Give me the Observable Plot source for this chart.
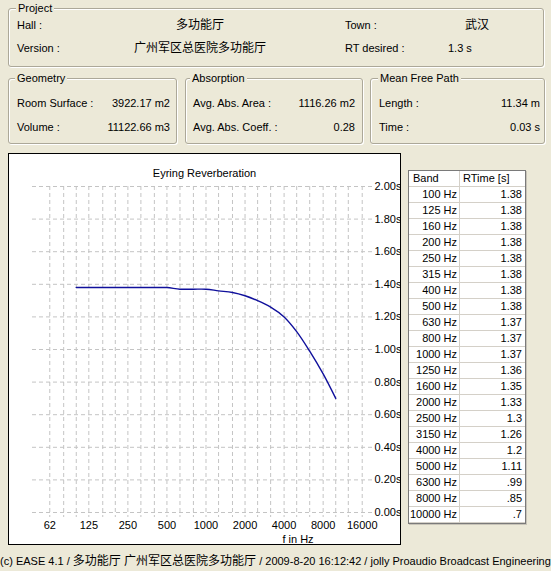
<!DOCTYPE html>
<html>
<head>
<meta charset="utf-8">
<script src="https://cdn.jsdelivr.net/npm/d3@7"></script>
<script src="https://cdn.jsdelivr.net/npm/@observablehq/plot@0.6"></script>
<style>
  html, body { margin:0; padding:0; }
  body { width:551px; height:571px; background:#ECE9D8; position:relative; overflow:hidden;
         font-family:"Liberation Sans","Noto Sans CJK SC",sans-serif; font-size:11px; color:#000; }
  .t { position:absolute; white-space:nowrap; line-height:14px; height:14px; }
  .cjk { font-size:12px; }
  .frame { position:absolute; border:1px solid #aca899; border-radius:3px;
           box-shadow: inset 1px 1px 0 #fff, 1px 1px 0 #fff; }
  .legend { position:absolute; background:#ECE9D8; padding:0 2px; line-height:14px; white-space:nowrap; }
  #panel { position:absolute; left:8px; top:153px; width:391px; height:390px; border:1px solid #000;
           background:#fff; overflow:hidden; }
  #panel svg { position:absolute; left:0; top:0; }
  #tbl { position:absolute; left:408px; top:170px; width:116px; border:1px solid #7a7a7a; background:#fff;
         box-shadow: 1px 1px 0 #c8c4b8; }
  .row { height:15px; border-bottom:1px solid #d4d0c8; display:flex; line-height:15px; }
  .c1 { border-right:1px solid #d4d0c8; text-align:right; padding-right:2px; box-sizing:border-box; width:51px; }
  .c2 { flex:1; text-align:right; padding-right:3px; }
  .hdr .c1, .hdr .c2 { text-align:left; padding-left:4px; }
  .hdr .c2 { padding-left:3px; }
  #footer { position:absolute; left:0; top:554px; white-space:nowrap; line-height:14px; font-size:11px; }
  #footer .z { font-size:12px; }
</style>
</head>
<body>
<script>
// ---------- data ----------
const bands = [100,125,160,200,250,315,400,500,630,800,1000,1250,1600,2000,2500,3150,4000,5000,6300,8000,10000];
const rtime = [1.38,1.38,1.38,1.38,1.38,1.38,1.38,1.38,1.37,1.37,1.37,1.36,1.35,1.33,1.3,1.26,1.2,1.11,0.99,0.85,0.7];
const xTicks = [62.5,125,250,500,1000,2000,4000,8000,16000];
const xTickLabels = ["62","125","250","500","1000","2000","4000","8000","16000"];
const gridFreqs = [62.5,80,100,125,160,200,250,315,400,500,630,800,1000,1250,1600,2000,2500,3150,4000,5000,6300,8000,10000,12500,16000];
const yTicks = [0,0.2,0.4,0.6,0.8,1.0,1.2,1.4,1.6,1.8,2.0];

const projectLabels = ["Hall :","Version :"];
const projectValues = ["多功能厅","广州军区总医院多功能厅"];
const projectLabels2 = ["Town :","RT desired :"];
const projectValues2 = ["武汉","1.3 s"];
const geometryLabels = ["Room Surface :","Volume :"];
const geometryValues = ["3922.17 m2","11122.66 m3"];
const absorptionLabels = ["Avg. Abs. Area :","Avg. Abs. Coeff. :"];
const absorptionValues = ["1116.26 m2","0.28"];
const mfpLabels = ["Length :","Time :"];
const mfpValues = ["11.34 m","0.03 s"];
const footerParts = [["(c) EASE 4.1  / ", false], ["多功能厅 广州军区总医院多功能厅", true],
                     [" / 2009-8-20 16:12:42 / jolly Proaudio Broadcast Engineering Ltd.", false]];

// ---------- helpers ----------
const body = document.body;
function el(cls, s, style) {
  const d = document.createElement("div");
  d.className = cls; d.textContent = s; Object.assign(d.style, style); body.appendChild(d); return d;
}
function txt(s, x, yc, align, extra) {
  const st = {top:(yc-7)+"px"};
  if (align === "center") { st.left = (x-200)+"px"; st.width = "400px"; st.textAlign = "center"; }
  else if (align === "right") { st.left = (x-300)+"px"; st.width = "300px"; st.textAlign = "right"; }
  else st.left = x+"px";
  return el("t" + (extra ? " "+extra : ""), s, st);
}
function frame(x0,y0,x1,y1,title,tx) {
  el("frame","",{left:x0+"px",top:y0+"px",width:(x1-x0-1)+"px",height:(y1-y0-1)+"px"});
  el("legend",title,{left:(tx-2)+"px",top:(y0-7)+"px"});
}

// ---------- info frames ----------
frame(8,8,543,66,"Project",18);
projectLabels.forEach((s,i)=>txt(s,17,[25,48][i],"left"));
projectValues.forEach((s,i)=>txt(s,200,[25,48][i],"center","cjk"));
projectLabels2.forEach((s,i)=>txt(s,345,[25,48][i],"left"));
txt(projectValues2[0],477,25,"center","cjk");
txt(projectValues2[1],448,48,"left");

frame(8,78,176,143,"Geometry",17);
geometryLabels.forEach((s,i)=>txt(s,17,[103,127][i],"left"));
geometryValues.forEach((s,i)=>txt(s,170,[103,127][i],"right"));
frame(185,78,362,143,"Absorption",192);
absorptionLabels.forEach((s,i)=>txt(s,193,[103,127][i],"left"));
absorptionValues.forEach((s,i)=>txt(s,355,[103,127][i],"right"));
frame(370,78,544,143,"Mean Free Path",380);
mfpLabels.forEach((s,i)=>txt(s,379,[103,127][i],"left"));
mfpValues.forEach((s,i)=>txt(s,540,[103,127][i],"right"));

// ---------- chart panel ----------
const panel = document.createElement("div");
panel.id = "panel"; body.appendChild(panel);

const chart = Plot.plot({
  width: 391, height: 390,
  marginTop: 32, marginBottom: 32, marginLeft: 23, marginRight: 27,
  x: {type: "log", base: 2, domain: [46, 19550]},
  y: {domain: [0, 2]},
  style: {fontFamily: "Liberation Sans, sans-serif", fontSize: "11px", color: "#000", background: "transparent"},
  marks: [
    Plot.ruleY(yTicks, {stroke: "#c4c4c4", strokeDasharray: "4,3", strokeWidth: 1}),
    Plot.ruleX(gridFreqs, {stroke: "#c4c4c4", strokeDasharray: "4,3", strokeWidth: 1, insetBottom: -5}),
    Plot.axisY(yTicks, {anchor: "right", tickSize: 0, tickPadding: 1, label: null,
                        tickFormat: d => d.toFixed(2) + "s", fill: "#000"}),
    Plot.axisX(xTicks, {anchor: "bottom", tickSize: 0, tickPadding: 9, label: null,
                        tickFormat: d => xTickLabels[xTicks.indexOf(d)], fill: "#000"}),
    Plot.line(bands.map((f, i) => ({f, rt: rtime[i]})),
              {x: "f", y: "rt", stroke: "#10109c", strokeWidth: 1.4, curve: "catmull-rom"})
  ]
});
panel.appendChild(chart);

const title = document.createElement("div");
title.className = "t"; title.textContent = "Eyring Reverberation";
Object.assign(title.style, {left:"0px", width:"391px", textAlign:"center", top:(172.5-154-7)+"px"});
panel.appendChild(title);
const xl = document.createElement("div");
xl.className = "t"; xl.textContent = "f in Hz";
Object.assign(xl.style, {left:(298-9-100)+"px", width:"200px", textAlign:"center", top:(538.5-154-7)+"px"});
panel.appendChild(xl);

// ---------- table ----------
const tbl = document.createElement("div"); tbl.id = "tbl"; body.appendChild(tbl);
function row(a, b, hdr) {
  const r = document.createElement("div"); r.className = "row" + (hdr ? " hdr" : "");
  const c1 = document.createElement("div"); c1.className = "c1"; c1.textContent = a;
  const c2 = document.createElement("div"); c2.className = "c2"; c2.textContent = b;
  r.appendChild(c1); r.appendChild(c2); tbl.appendChild(r);
}
const fmt = v => String(v).replace(/^0\./, ".");
row("Band", "RTime [s]", true);
bands.forEach((f, i) => row(f + " Hz", fmt(rtime[i])));

// ---------- footer ----------
const foot = document.createElement("div"); foot.id = "footer"; body.appendChild(foot);
footerParts.forEach(([s, z]) => {
  const sp = document.createElement("span"); sp.textContent = s; if (z) sp.className = "z"; foot.appendChild(sp);
});
</script>
</body>
</html>
